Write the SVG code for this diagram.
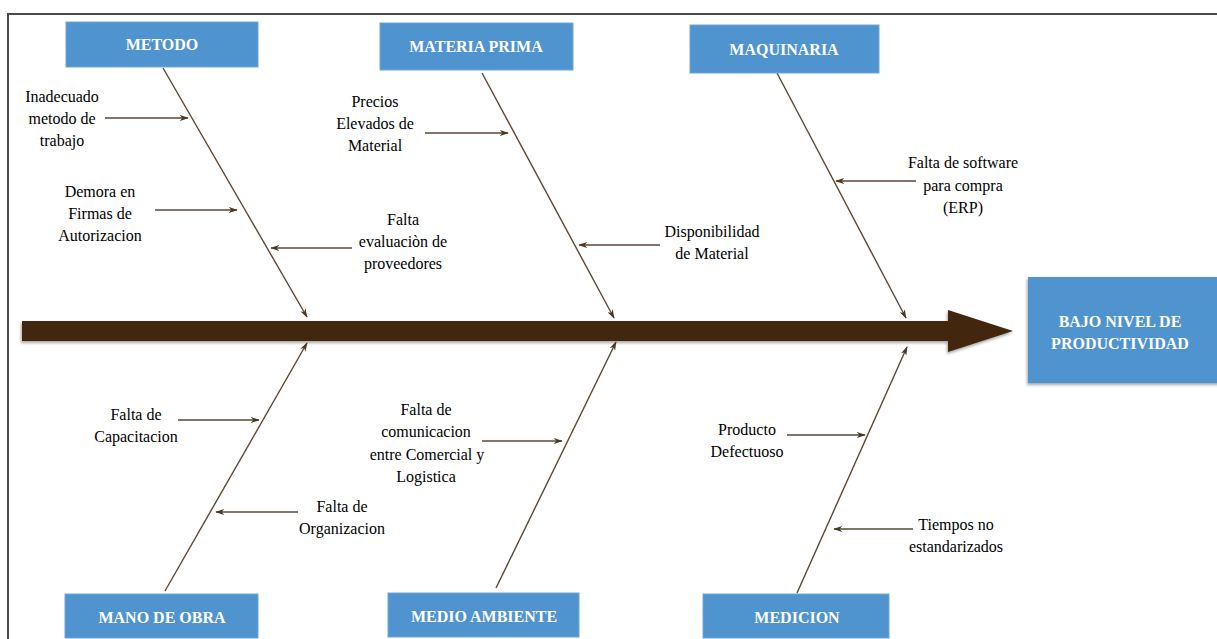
<svg xmlns="http://www.w3.org/2000/svg" width="1217" height="639" viewBox="0 0 1217 639">
<style>
.box{fill:#4F93CF;stroke:#6EA6DA;stroke-width:1}
.hdr{font-family:'Liberation Serif','Times New Roman','DejaVu Serif',serif;font-weight:bold;font-size:16px;fill:#fff;text-anchor:middle}
.lbl{font-family:'Liberation Serif','Times New Roman','DejaVu Serif',serif;font-size:16px;fill:#000;text-anchor:middle}
.bone{stroke:#5A4836;stroke-width:1.4;fill:none;marker-end:url(#ah)}
.cause{stroke:#5A4836;stroke-width:1.4;fill:none;marker-end:url(#ah)}
</style>
<defs>
<marker id="ah" viewBox="0 0 12 8" refX="11" refY="4" markerWidth="9" markerHeight="6" orient="auto" markerUnits="userSpaceOnUse">
<path d="M0,0 L12,4 L0,8 L3.5,4 z" fill="#4A3826"/>
</marker>
<filter id="sh" x="-10%" y="-10%" width="130%" height="130%">
<feDropShadow dx="-1" dy="2" stdDeviation="1.5" flood-color="#000" flood-opacity="0.35"/>
</filter>
</defs>
<rect width="1217" height="639" fill="#fff"/>
<path d="M8,640 V14 H1218" fill="none" stroke="#4a4a4a" stroke-width="2"/>

<g id="connectors">
<polygon id="spine" points="22,321 948,321 948,310 1013,331 948,352 948,341 22,341" fill="#42250A" filter="url(#sh)"/>
<line class="bone" x1="163" y1="68" x2="307" y2="317"/>
<line class="bone" x1="482" y1="73" x2="614" y2="318"/>
<line class="bone" x1="777" y1="73" x2="906" y2="318"/>
<line class="bone" x1="165" y1="591" x2="307" y2="343"/>
<line class="bone" x1="496" y1="588" x2="616" y2="342"/>
<line class="bone" x1="797" y1="593" x2="907" y2="347"/>
<line class="cause" x1="105" y1="118" x2="188" y2="118"/>
<line class="cause" x1="155" y1="210" x2="237" y2="210"/>
<line class="cause" x1="352" y1="248" x2="271" y2="248"/>
<line class="cause" x1="425" y1="133" x2="508" y2="133"/>
<line class="cause" x1="660" y1="245" x2="579" y2="245"/>
<line class="cause" x1="916" y1="181" x2="836" y2="181"/>
<line class="cause" x1="178" y1="420" x2="259" y2="420"/>
<line class="cause" x1="298" y1="512" x2="216" y2="512"/>
<line class="cause" x1="482" y1="441" x2="562" y2="441"/>
<line class="cause" x1="787" y1="435" x2="865" y2="435"/>
<line class="cause" x1="913" y1="529" x2="834" y2="529"/>
</g>

<g id="metodo"><rect class="box" x="66" y="22" width="192" height="45"/><text class="hdr" x="162" y="50">METODO</text></g>
<g id="materia-prima"><rect class="box" x="380" y="23" width="193" height="47"/><text class="hdr" x="476" y="52">MATERIA PRIMA</text></g>
<g id="maquinaria"><rect class="box" x="690" y="25" width="189" height="48"/><text class="hdr" x="784" y="55">MAQUINARIA</text></g>
<g id="mano-de-obra"><rect class="box" x="65" y="594" width="193" height="44"/><text class="hdr" x="162" y="623">MANO DE OBRA</text></g>
<g id="medio-ambiente"><rect class="box" x="388" y="593" width="191" height="44"/><text class="hdr" x="484" y="622">MEDIO AMBIENTE</text></g>
<g id="medicion"><rect class="box" x="703" y="594" width="186" height="44"/><text class="hdr" x="797" y="623">MEDICION</text></g>
<g id="efecto"><rect x="1028" y="277" width="195" height="106" fill="#4F93CF" filter="url(#sh)"/><text class="hdr" x="1120" y="327">BAJO NIVEL DE</text><text class="hdr" x="1120" y="349">PRODUCTIVIDAD</text></g>

<g id="c-inadecuado"><text class="lbl" x="62" y="102">Inadecuado</text><text class="lbl" x="62" y="124">metodo de</text><text class="lbl" x="62" y="146">trabajo</text></g>
<g id="c-demora"><text class="lbl" x="100" y="197">Demora en</text><text class="lbl" x="100" y="219">Firmas de</text><text class="lbl" x="100" y="241">Autorizacion</text></g>
<g id="c-falta-eval"><text class="lbl" x="403" y="225">Falta</text><text class="lbl" x="403" y="247">evaluaciòn de</text><text class="lbl" x="403" y="269">proveedores</text></g>
<g id="c-precios"><text class="lbl" x="375" y="107">Precios</text><text class="lbl" x="375" y="129">Elevados de</text><text class="lbl" x="375" y="151">Material</text></g>
<g id="c-disponibilidad"><text class="lbl" x="712" y="237">Disponibilidad</text><text class="lbl" x="712" y="259">de Material</text></g>
<g id="c-software"><text class="lbl" x="963" y="168">Falta de software</text><text class="lbl" x="963" y="191">para compra</text><text class="lbl" x="963" y="213">(ERP)</text></g>
<g id="c-capacitacion"><text class="lbl" x="136" y="420">Falta de</text><text class="lbl" x="136" y="442">Capacitacion</text></g>
<g id="c-organizacion"><text class="lbl" x="342" y="512">Falta de</text><text class="lbl" x="342" y="534">Organizacion</text></g>
<g id="c-comunicacion"><text class="lbl" x="426" y="415">Falta de</text><text class="lbl" x="426" y="437">comunicacion</text><text class="lbl" x="427" y="460">entre Comercial y</text><text class="lbl" x="426" y="482">Logistica</text></g>
<g id="c-producto"><text class="lbl" x="747" y="435">Producto</text><text class="lbl" x="747" y="457">Defectuoso</text></g>
<g id="c-tiempos"><text class="lbl" x="956" y="530">Tiempos no</text><text class="lbl" x="956" y="552">estandarizados</text></g>
</svg>
